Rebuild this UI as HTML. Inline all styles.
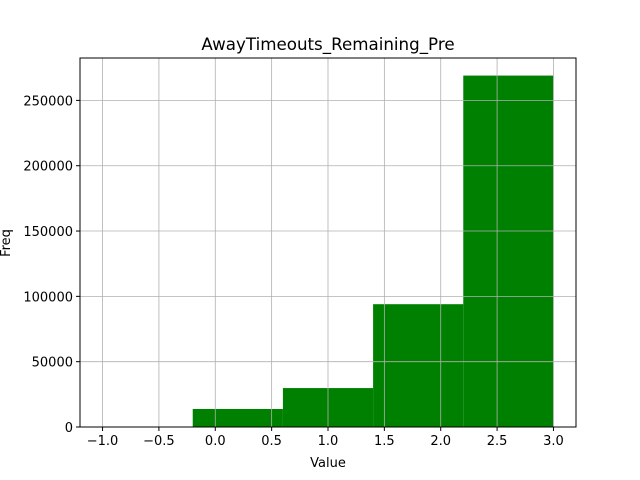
<!DOCTYPE html>
<html><head><meta charset="utf-8"><style>
body{margin:0;background:#fff;}
svg{display:block;font-family:"DejaVu Sans","Liberation Sans",sans-serif;}
</style></head><body>
<svg id="chart" width="640" height="480">
<rect width="640" height="480" fill="#fff"/>
<text x="328" y="50" text-anchor="middle" font-size="16.7">AwayTimeouts_Remaining_Pre</text>
<g id="bars"></g><g id="grid"></g><g id="ticks"></g>
<rect x="80" y="58" width="496" height="369" fill="none" stroke="#000" stroke-width="1"/>
<text x="328" y="467" text-anchor="middle" font-size="13">Value</text>
<text transform="translate(10,243) rotate(-90)" text-anchor="middle" font-size="13">Freq</text>
</svg>
<script>
const binEdges=[-1.0,-0.2,0.6,1.4,2.2,3.0];
const counts=[0,13800,29800,94000,269000];
const xTicks=[-1.0,-0.5,0.0,0.5,1.0,1.5,2.0,2.5,3.0];
const xTickLabels=["−1.0","−0.5","0.0","0.5","1.0","1.5","2.0","2.5","3.0"];
const yTicks=[0,50000,100000,150000,200000,250000];
const yTickLabels=["0","50000","100000","150000","200000","250000"];
const L=80,R=576,T=58,B=427;
const xMin=-1.2,xMax=3.2,yMax=282450;
const sx=v=>L+(v-xMin)/(xMax-xMin)*(R-L);
const sy=v=>B-v/yMax*(B-T);
const NS="http://www.w3.org/2000/svg";
function mk(t,a,p){const e=document.createElementNS(NS,t);for(const k in a)e.setAttribute(k,a[k]);p.appendChild(e);return e;}
const bars=document.getElementById('bars'),grid=document.getElementById('grid'),ticks=document.getElementById('ticks');
counts.forEach((c,i)=>{if(c<=0)return;
const r=mk('rect',{x:sx(binEdges[i]),y:sy(c),width:sx(binEdges[i+1])-sx(binEdges[i]),height:B-sy(c),fill:'#008000'},bars);

});
xTicks.forEach((v,i)=>{const x=sx(v);
const g=mk('line',{x1:x,x2:x,y1:T,y2:B,stroke:'#b0b0b0','stroke-width':0.8},grid);


mk('line',{x1:x,x2:x,y1:B,y2:B+4,stroke:'#000'},ticks);
const t=mk('text',{x:x,y:B+18,'text-anchor':'middle','font-size':'13'},ticks);t.textContent=xTickLabels[i];

});
yTicks.forEach((v,i)=>{const y=sy(v);
const g=mk('line',{x1:L,x2:R,y1:y,y2:y,stroke:'#b0b0b0','stroke-width':0.8},grid);


mk('line',{x1:L-4,x2:L,y1:y,y2:y,stroke:'#000'},ticks);
const t=mk('text',{x:L-7,y:y+5,'text-anchor':'end','font-size':'13'},ticks);t.textContent=yTickLabels[i];

});
</script>
</body></html>
